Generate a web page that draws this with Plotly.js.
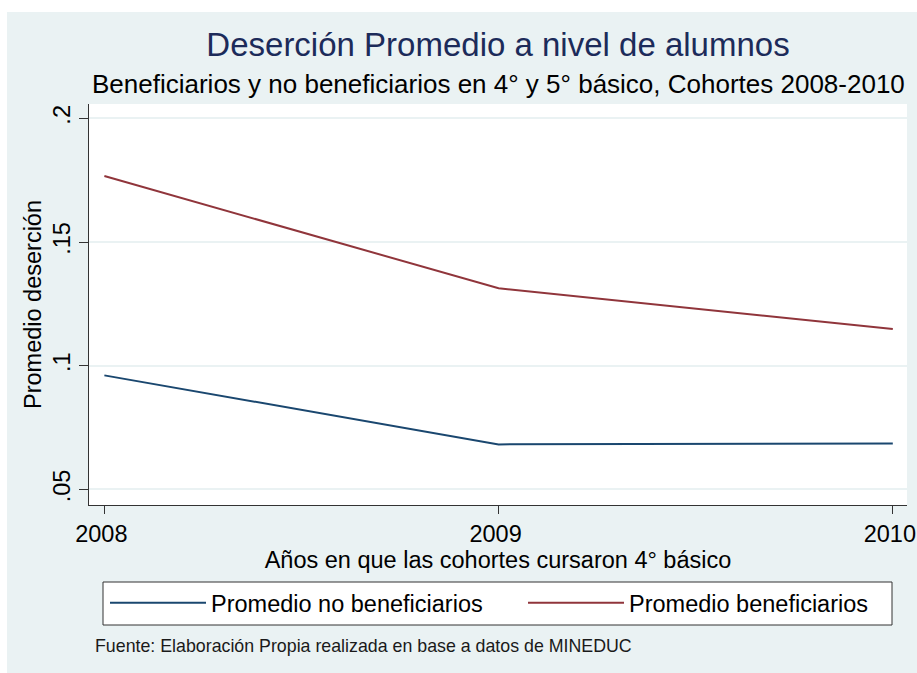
<!DOCTYPE html>
<html>
<head>
<meta charset="utf-8">
<script src="https://cdn.plot.ly/plotly-3.0.1.min.js"></script>
<style>
  html, body { margin: 0; padding: 0; background: #ffffff; }
  #chart { position: absolute; left: 7px; top: 12px; width: 910px; height: 661px; }
</style>
</head>
<body>
<div id="chart"></div>
<script>
// ---- data ----
const years = [2008, 2009, 2010];
const noBeneficiarios = [0.0961, 0.0682, 0.0686];
const beneficiarios = [0.1767, 0.1313, 0.1148];
const seriesNames = ['Promedio no beneficiarios', 'Promedio beneficiarios'];
const yTickVals = [0.05, 0.1, 0.15, 0.2];
const yTickText = ['.05', '.1', '.15', '.2'];
const xTickVals = [2008, 2009, 2010];
const xTickText = ['2008', '2009', '2010'];
const titleText = 'Deserción Promedio a nivel de alumnos';
const subtitleText = 'Beneficiarios y no beneficiarios en 4° y 5° básico, Cohortes 2008-2010';
const xTitle = 'Años en que las cohortes cursaron 4° básico';
const yTitle = 'Promedio deserción';
const noteText = 'Fuente: Elaboración Propia realizada en base a datos de MINEDUC';

const FONT = 'Liberation Sans, Arial, Helvetica, sans-serif';
const BG = '#eaf2f3';
const BLUE = '#1a476f';
const RED = '#90353b';
const FS = 23.5;

const traces = [
  {x: years, y: noBeneficiarios, name: seriesNames[0], type: 'scatter', mode: 'lines',
   line: {color: BLUE, width: 2}, legend: 'legend', hoverinfo: 'skip'},
  {x: years, y: beneficiarios, name: seriesNames[1], type: 'scatter', mode: 'lines',
   line: {color: RED, width: 2}, legend: 'legend2', hoverinfo: 'skip'}
];

const legendCommon = {
  orientation: 'h', bgcolor: 'rgba(0,0,0,0)', borderwidth: 0,
  font: {family: FONT, size: FS, color: '#000'}, itemwidth: 96,
  yanchor: 'middle', y: -0.2444, xanchor: 'left', itemclick: false, itemdoubleclick: false
};

const layout = {
  width: 910, height: 661,
  margin: {l: 82, r: 10, t: 92, b: 168},
  paper_bgcolor: BG, plot_bgcolor: '#ffffff',
  font: {family: FONT, size: FS, color: '#000'},
  showlegend: true,
  title: {
    text: titleText, x: 0.5, xref: 'paper', xanchor: 'center',
    y: 0.9508, yref: 'container', yanchor: 'middle',
    font: {family: FONT, size: 33, color: '#1c2b5a'}
  },
  xaxis: {
    range: [2007.961, 2010.036], tickvals: xTickVals, ticktext: xTickText,
    showgrid: false, zeroline: false, showline: true, linecolor: '#333', linewidth: 1,
    ticks: 'outside', ticklen: 8, tickcolor: '#333', tickwidth: 1,
    ticklabeloverflow: 'allow', ticklabelshift: -3,
    tickfont: {family: FONT, size: FS, color: '#000'},
    title: {text: xTitle, font: {family: FONT, size: FS, color: '#000'}, standoff: 0}
  },
  yaxis: {
    range: [0.0437, 0.2058], tickvals: yTickVals, ticktext: yTickText,
    showgrid: true, gridcolor: BG, gridwidth: 2, zeroline: false,
    showline: true, linecolor: '#333', linewidth: 1,
    ticks: 'outside', ticklen: 9, tickcolor: '#333', tickwidth: 1, tickangle: -90,
    tickfont: {family: FONT, size: FS, color: '#000'},
    title: {text: yTitle, font: {family: FONT, size: FS, color: '#000'}, standoff: 0}
  },
  legend: Object.assign({}, legendCommon, {x: (103 - 5 - 82) / 818}),
  legend2: Object.assign({}, legendCommon, {x: (521 - 5 - 82) / 818}),
  shapes: [
    {type: 'rect', xref: 'paper', yref: 'paper', x0: (96 - 82) / 818, x1: (885 - 82) / 818,
     y0: (493 - 613) / 401, y1: (493 - 570) / 401,
     fillcolor: '#ffffff', line: {color: '#333', width: 1}, layer: 'above'}
  ],
  annotations: [
    {text: subtitleText, xref: 'paper', yref: 'paper', x: 0.5, y: (493 - 72.2) / 401,
     xanchor: 'center', yanchor: 'middle', showarrow: false,
     font: {family: FONT, size: 26, color: '#000'}},
    {text: noteText, xref: 'paper', yref: 'paper', x: (85.7 - 82) / 818, y: (493 - 634) / 401,
     xanchor: 'left', yanchor: 'middle', showarrow: false,
     font: {family: FONT, size: 17.8, color: '#1a1a1a'}}
  ]
};

Plotly.newPlot('chart', traces, layout, {displayModeBar: false, staticPlot: true});
</script>
</body>
</html>
